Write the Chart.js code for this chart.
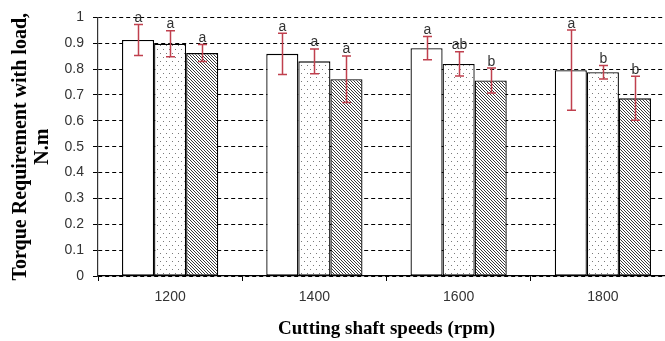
<!DOCTYPE html>
<html>
<head>
<meta charset="utf-8">
<script src="https://cdn.jsdelivr.net/npm/chart.js@4.4.1/dist/chart.umd.min.js"></script>
<style>
    html, body { margin: 0; padding: 0; background: #fff; overflow: hidden; }
    #chartBox { width: 665px; height: 341px; overflow: hidden; }
</style>
</head>
<body>
<div id="chartBox">
    <canvas id="torqueChart" width="680" height="341"></canvas>
</div>
<script>
// cutting shaft speeds (rpm)
const speeds = ['1200', '1400', '1600', '1800'];

// torque requirement with load, N.m (three treatments)
const plainValues   = [0.913, 0.859, 0.881, 0.796];
const dottedValues  = [0.898, 0.830, 0.820, 0.788];
const hatchedValues = [0.862, 0.761, 0.756, 0.687];

// half length of the error bars
const plainErrors   = [0.060, 0.080, 0.045, 0.155];
const dottedErrors  = [0.050, 0.048, 0.047, 0.026];
const hatchedErrors = [0.033, 0.090, 0.048, 0.085];

// significance letters over each bar
const plainLetters   = ['a', 'a', 'a', 'a'];
const dottedLetters  = ['a', 'a', 'ab', 'b'];
const hatchedLetters = ['a', 'a', 'b', 'b'];

const yTicks = [0, 0.1, 0.2, 0.3, 0.4, 0.5, 0.6, 0.7, 0.8, 0.9, 1];

function makeDotPattern() {
    const c = document.createElement('canvas');
    c.width = 6; c.height = 8;
    const g = c.getContext('2d');
    g.fillStyle = '#fff';
    g.fillRect(0, 0, 6, 8);
    g.fillStyle = '#7a7a7a';
    g.fillRect(1, 1, 1, 1);
    g.fillRect(4, 5, 1, 1);
    return g.createPattern(c, 'repeat');
}

function makeHatchPattern() {
    const c = document.createElement('canvas');
    c.width = 3; c.height = 3;
    const g = c.getContext('2d');
    g.fillStyle = '#fff';
    g.fillRect(0, 0, 3, 3);
    g.fillStyle = '#3a3a3a';
    for (let i = 0; i < 3; i++) g.fillRect(i, i, 1, 1);
    return g.createPattern(c, 'repeat');
}

const errorSets  = [plainErrors, dottedErrors, hatchedErrors];
const letterSets = [plainLetters, dottedLetters, hatchedLetters];

const errorBarPlugin = {
    id: 'errorBars',
    afterDatasetsDraw(chart) {
        const ctx = chart.ctx;
        const yScale = chart.scales.y;
        ctx.save();
        chart.data.datasets.forEach((ds, i) => {
            const meta = chart.getDatasetMeta(i);
            meta.data.forEach((bar, j) => {
                const v = ds.data[j];
                const e = errorSets[i][j];
                const x = Math.round(bar.x) + 0.5;
                const yTop = yScale.getPixelForValue(v + e);
                const yBot = yScale.getPixelForValue(v - e);
                ctx.strokeStyle = '#c0404e';
                ctx.lineWidth = 1.5;
                ctx.beginPath();
                ctx.moveTo(x, yTop); ctx.lineTo(x, yBot);
                ctx.moveTo(x - 4.5, yTop); ctx.lineTo(x + 4.5, yTop);
                ctx.moveTo(x - 4.5, yBot); ctx.lineTo(x + 4.5, yBot);
                ctx.stroke();

                ctx.fillStyle = '#333';
                ctx.font = '14px "Liberation Sans", Arial, sans-serif';
                ctx.textAlign = 'center';
                ctx.textBaseline = 'alphabetic';
                ctx.fillText(letterSets[i][j], x, yTop - 2.5);
            });
        });
        ctx.restore();
    }
};

const barStyle = {
    borderColor: '#000',
    borderWidth: 1.3,
    borderSkipped: false,
    categoryPercentage: 0.667,
    barPercentage: 1.0
};

new Chart(document.getElementById('torqueChart'), {
    type: 'bar',
    data: {
        labels: speeds,
        datasets: [
            Object.assign({ label: 'plain', data: plainValues, backgroundColor: '#fff' }, barStyle),
            Object.assign({ label: 'dotted', data: dottedValues, backgroundColor: makeDotPattern() }, barStyle),
            Object.assign({ label: 'hatched', data: hatchedValues, backgroundColor: makeHatchPattern() }, barStyle)
        ]
    },
    options: {
        responsive: false,
        animation: false,
        devicePixelRatio: 1,
        layout: { padding: { top: 15, right: 5, bottom: 0, left: 0 } },
        plugins: {
            legend: { display: false },
            tooltip: { enabled: false }
        },
        scales: {
            x: {
                grid: {
                    drawOnChartArea: false,
                    drawTicks: true,
                    tickLength: 5,
                    tickColor: '#000',
                    offset: true
                },
                border: { color: '#000', width: 1.2 },
                ticks: {
                    color: '#333',
                    padding: 8,
                    font: { family: '"Liberation Sans", Arial, sans-serif', size: 14 }
                },
                title: {
                    display: true,
                    text: 'Cutting shaft speeds (rpm)',
                    color: '#000',
                    padding: { top: 0, bottom: 2 },
                    font: { family: '"Liberation Serif", "Times New Roman", serif', size: 19, weight: 'bold', lineHeight: 1.05 }
                },
                afterFit(scale) { scale.height = 65; }
            },
            y: {
                min: 0,
                max: 1,
                afterBuildTicks(scale) { scale.ticks = yTicks.map(v => ({ value: v })); },
                grid: {
                    color: '#000',
                    lineWidth: 1,
                    tickLength: 5,
                    tickColor: '#000',
                    tickBorderDash: []
                },
                border: { color: '#333', width: 1.2, dash: [4, 3] },
                ticks: {
                    color: '#333',
                    padding: 9,
                    font: { family: '"Liberation Sans", Arial, sans-serif', size: 14 },
                    callback: v => String(Math.round(v * 10) / 10)
                },
                title: {
                    display: true,
                    text: ['Torque Requirement with load,', 'N.m'],
                    color: '#000',
                    padding: { top: 10, bottom: 0 },
                    font: { family: '"Liberation Serif", "Times New Roman", serif', size: 20, weight: 'bold', lineHeight: 1.1 }
                },
                afterFit(scale) { scale.width = 98; }
            }
        }
    },
    plugins: [errorBarPlugin]
});
</script>
</body>
</html>
